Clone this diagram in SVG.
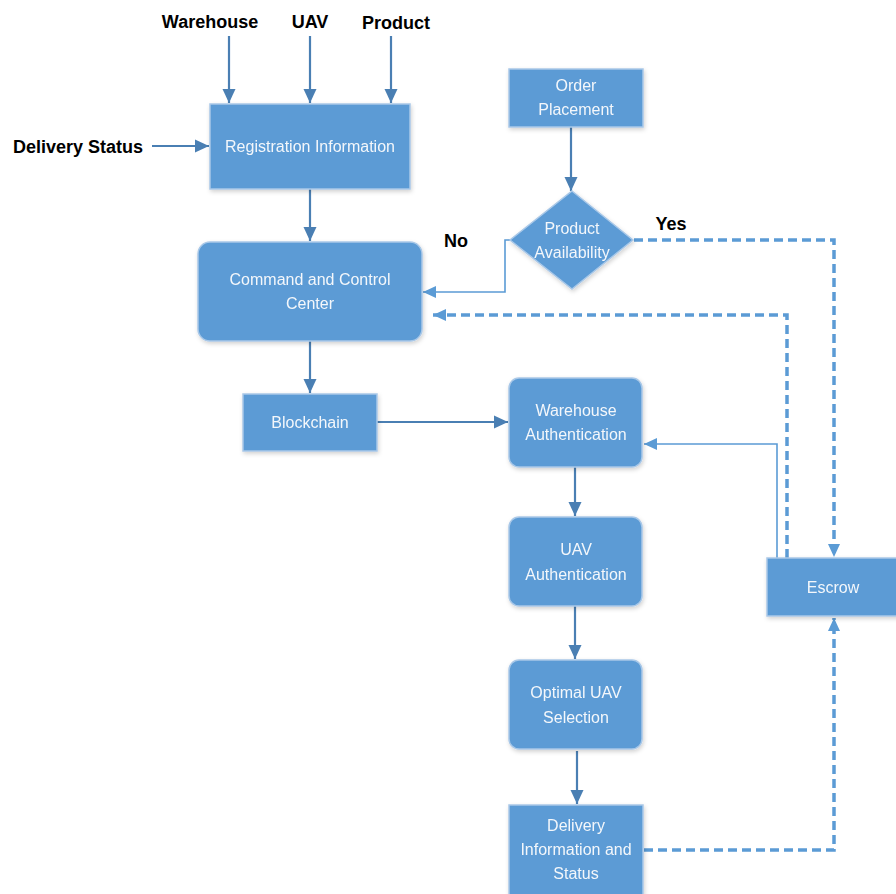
<svg xmlns="http://www.w3.org/2000/svg" width="896" height="894" viewBox="0 0 896 894">
<style>
.box{fill:#5b9bd5;stroke:#a9c8e8;stroke-width:1.5}
.t{font-family:"Liberation Sans",Arial,sans-serif;font-size:16px;fill:#f4f7fb;text-anchor:middle}
.lb{font-family:"Liberation Sans",Arial,sans-serif;font-size:18px;font-weight:bold;fill:#000;text-anchor:middle}
.s{fill:none;stroke:#4a7fb3;stroke-width:2.2}
.thin{fill:none;stroke:#5b9bd5;stroke-width:1.6}
.d{fill:none;stroke:#5b9bd5;stroke-width:3.5;stroke-dasharray:9,5}
</style>
<defs>
<marker id="a" markerUnits="userSpaceOnUse" markerWidth="16" markerHeight="16" refX="14" refY="8" orient="auto"><path d="M0,1.5 L14,8 L0,14.5 Z" fill="#4a7fb3"/></marker>
<marker id="b" markerUnits="userSpaceOnUse" markerWidth="14" markerHeight="14" refX="13" refY="7" orient="auto"><path d="M0,1 L13,7 L0,13 Z" fill="#5b9bd5"/></marker>
<filter id="sh" x="-10%" y="-10%" width="130%" height="130%"><feDropShadow dx="1" dy="2" stdDeviation="2" flood-color="#000" flood-opacity="0.18"/></filter>
</defs>
<rect width="896" height="894" fill="#fff"/>
<g id="labels">
<text class="lb" x="210" y="28">Warehouse</text>
<text class="lb" x="310" y="28">UAV</text>
<text class="lb" x="396" y="29">Product</text>
<text class="lb" x="78" y="153">Delivery Status</text>
<text class="lb" x="456" y="247">No</text>
<text class="lb" x="671" y="230">Yes</text>
</g>
<g id="connectors">
<line class="s" x1="229" y1="36" x2="229" y2="103" marker-end="url(#a)"/>
<line class="s" x1="310" y1="36" x2="310" y2="103" marker-end="url(#a)"/>
<line class="s" x1="391" y1="36" x2="391" y2="103" marker-end="url(#a)"/>
<line class="s" x1="152" y1="146" x2="209" y2="146" marker-end="url(#a)"/>
<line class="s" x1="310" y1="189" x2="310" y2="241" marker-end="url(#a)"/>
<line class="s" x1="571" y1="127" x2="571" y2="191" marker-end="url(#a)"/>
<path class="thin" d="M510,240 H505 V292 H423" marker-end="url(#b)"/>
<path class="d" d="M634,240 H834 V557" marker-end="url(#b)"/>
<path class="d" d="M787,558 V315 H433" marker-end="url(#b)"/>
<line class="s" x1="310" y1="341" x2="310" y2="393" marker-end="url(#a)"/>
<line class="s" x1="377" y1="422" x2="508" y2="422" marker-end="url(#a)"/>
<path class="thin" d="M777,558 V444 H644" marker-end="url(#b)"/>
<line class="s" x1="575" y1="467" x2="575" y2="516" marker-end="url(#a)"/>
<line class="s" x1="575" y1="606" x2="575" y2="659" marker-end="url(#a)"/>
<line class="s" x1="577" y1="751" x2="577" y2="804" marker-end="url(#a)"/>
<path class="d" d="M644,850 H834 V618" marker-end="url(#b)"/>
</g>
<g id="registration" filter="url(#sh)"><rect class="box" x="210" y="104" width="200" height="85"/><text class="t" x="310" y="152">Registration Information</text></g>
<g id="order" filter="url(#sh)"><rect class="box" x="509" y="69" width="134" height="58"/><text class="t" x="576" y="91">Order</text><text class="t" x="576" y="115">Placement</text></g>
<g id="availability" filter="url(#sh)"><polygon class="box" points="572,191 633,240 572,289 510,240" stroke="none"/><text class="t" x="572" y="234">Product</text><text class="t" x="572" y="258">Availability</text></g>
<g id="command" filter="url(#sh)"><rect class="box" x="198" y="242" width="224" height="99" rx="12"/><text class="t" x="310" y="285">Command and Control</text><text class="t" x="310" y="309">Center</text></g>
<g id="blockchain" filter="url(#sh)"><rect class="box" x="243" y="394" width="134" height="57"/><text class="t" x="310" y="428">Blockchain</text></g>
<g id="warehouse-auth" filter="url(#sh)"><rect class="box" x="509" y="378" width="133" height="89" rx="10"/><text class="t" x="576" y="416">Warehouse</text><text class="t" x="576" y="440">Authentication</text></g>
<g id="uav-auth" filter="url(#sh)"><rect class="box" x="509" y="517" width="133" height="89" rx="10"/><text class="t" x="576" y="555">UAV</text><text class="t" x="576" y="580">Authentication</text></g>
<g id="optimal" filter="url(#sh)"><rect class="box" x="509" y="660" width="133" height="89" rx="10"/><text class="t" x="576" y="698">Optimal UAV</text><text class="t" x="576" y="723">Selection</text></g>
<g id="delivery" filter="url(#sh)"><rect class="box" x="509" y="805" width="134" height="92"/><text class="t" x="576" y="831">Delivery</text><text class="t" x="576" y="855">Information and</text><text class="t" x="576" y="879">Status</text></g>
<g id="escrow" filter="url(#sh)"><rect class="box" x="767" y="558" width="132" height="58"/><text class="t" x="833" y="593">Escrow</text></g>
</svg>
